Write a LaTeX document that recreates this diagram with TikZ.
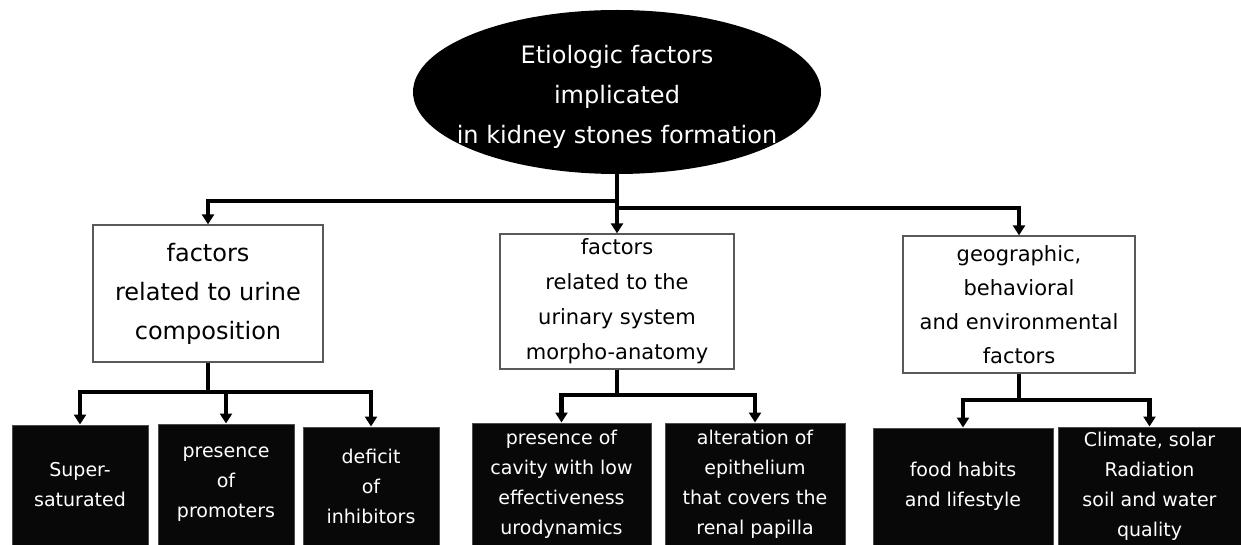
\documentclass[tikz,border=0pt]{standalone}
\usepackage{fontspec}
\setmainfont{DejaVu Sans}
\usetikzlibrary{arrows.meta,shapes.geometric}
\tikzset{
  conn/.style={line width=4.5pt, draw=black},
  arr/.style={conn, -{Triangle[width=12pt,length=10pt]}},
  whitebox/.style={draw=black!65, line width=1.3pt, fill=white, inner sep=0pt, align=center},
  blackbox/.style={draw=black!70, line width=1pt, fill=black!97, text=white, inner sep=0pt, align=center,
    font=\fontsize{19}{30}\selectfont},
}
\begin{document}
\begin{tikzpicture}[x=1pt,y=-1pt]
\useasboundingbox (0,0) rectangle (1241,545);
% root
\node[ellipse, fill=black, minimum width=408pt, minimum height=164pt, inner sep=0pt] (E) at (617,92) {};
\node[text=white, align=center, font=\fontsize{24}{40}\selectfont] (Et) at (617,97)
  {Etiologic factors\\implicated\\in kidney stones formation};
% level 2
\node[whitebox, minimum width=230pt, minimum height=137pt, font=\fontsize{24}{39}\selectfont] (A) at (208,293.5)
  {factors\\related to urine\\composition};
\node[whitebox, minimum width=234pt, minimum height=135pt, font=\fontsize{21}{35}\selectfont] (B) at (617,301.5)
  {factors\\related to the\\urinary system\\morpho-anatomy};
\node[whitebox, minimum width=232pt, minimum height=137pt, font=\fontsize{21}{34}\selectfont] (C) at (1019,304.5)
  {geographic,\\behavioral\\and environmental\\factors};
% level 3
\node[blackbox, minimum width=136pt, minimum height=120pt] (K1) at (80,485) {Super-\\saturated};
\node[blackbox, minimum width=136pt, minimum height=121pt] (K2) at (226,484.5) {presence\\of\\promoters};
\node[blackbox, minimum width=136pt, minimum height=118pt] (K3) at (371,486) {deficit\\of\\inhibitors};
\node[blackbox, minimum width=179pt, minimum height=122pt] (K4) at (561.5,484) {presence of\\cavity with low\\effectiveness\\urodynamics};
\node[blackbox, minimum width=180pt, minimum height=122pt] (K5) at (755,484) {alteration of\\epithelium\\that covers the\\renal papilla};
\node[blackbox, minimum width=180pt, minimum height=117pt] (K6) at (963,486.5) {food habits\\and lifestyle};
\node[blackbox, minimum width=183pt, minimum height=118pt] (K7) at (1149.5,486) {Climate, solar\\Radiation\\soil and water\\quality};
% connectors from root
\coordinate (jL) at (617,201);
\coordinate (jR) at (617,208);
\draw[arr] (E.south) -- (B.north);
\draw[arr] (jL) -| (A.north);
\draw[arr] (jR) -| (C.north);
% connectors from A
\coordinate (a1) at (208,392);
\draw[conn] (A.south) -- (a1);
\draw[arr] (a1) -| (K1.north);
\draw[arr] (a1) -| (K2.north);
\draw[arr] (a1) -| (K3.north);
% connectors from B
\coordinate (b1) at (617,395);
\draw[conn] (B.south) -- (b1);
\draw[arr] (b1) -| (K4.north);
\draw[arr] (b1) -| (K5.north);
% connectors from C
\coordinate (c1) at (1019,400);
\draw[conn] (C.south) -- (c1);
\draw[arr] (c1) -| (K6.north);
\draw[arr] (c1) -| (K7.north);
\end{tikzpicture}
\end{document}
